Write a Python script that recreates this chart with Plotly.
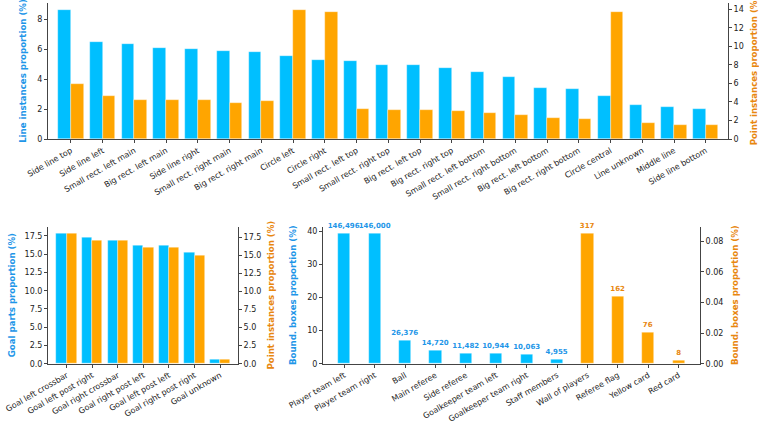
import plotly.graph_objects as go

# ---------------- data ----------------
line_categories = ["Side line top", "Side line left", "Small rect. left main", "Big rect. left main",
                   "Side line right", "Small rect. right main", "Big rect. right main", "Circle left",
                   "Circle right", "Small rect. left top", "Small rect. right top", "Big rect. left top",
                   "Big rect. right top", "Small rect. left bottom", "Small rect. right bottom",
                   "Big rect. left bottom", "Big rect. right bottom", "Circle central", "Line unknown",
                   "Middle line", "Side line bottom"]
line_instances_pct = [8.62, 6.44, 6.33, 6.04, 6.00, 5.87, 5.80, 5.56, 5.29, 5.18, 4.91,
                      4.91, 4.73, 4.47, 4.13, 3.38, 3.33, 2.87, 2.27, 2.13, 2.00]
line_points_pct = [5.96, 4.63, 4.16, 4.24, 4.24, 3.84, 4.13, 13.93, 13.71, 3.27, 3.09,
                   3.16, 3.05, 2.84, 2.62, 2.26, 2.15, 13.71, 1.69, 1.51, 1.47]

goal_categories = ["Goal left crossbar", "Goal left post right", "Goal right crossbar",
                   "Goal right post left", "Goal left post left", "Goal right post right", "Goal unknown"]
goal_parts_pct = [17.90, 17.36, 16.86, 16.26, 16.17, 15.17, 0.59]
goal_points_pct = [18.06, 17.09, 17.00, 16.03, 16.08, 15.02, 0.55]

box_categories_main = ["Player team left", "Player team right", "Ball", "Main referee", "Side referee",
                       "Goalkeeper team left", "Goalkeeper team right", "Staff members"]
box_counts_main = [146496, 146000, 26376, 14720, 11482, 10944, 10063, 4955]
box_pct_main = [39.42, 39.29, 7.10, 3.96, 3.09, 2.95, 2.71, 1.33]

box_categories_rare = ["Wall of players", "Referee flag", "Yellow card", "Red card"]
box_counts_rare = [317, 162, 76, 8]
box_pct_rare = [0.0853, 0.0436, 0.0205, 0.0022]

# ---------------- style ----------------
BLUE = "#00BFFF"
ORANGE = "#FFA500"
BLUE_TXT = "#1E96E8"
ORANGE_TXT = "#E8870F"
AX = "#444444"
FONT = "DejaVu Sans"
TICKF = dict(family=FONT, size=8, color="#222222")
EDGE = dict(color="rgba(255,255,255,0.6)", width=0.6)
W, H = 759, 422


def xd(a, b):
    return [a / W, b / W]


def yd(top, bottom):
    return [1 - bottom / H, 1 - top / H]


fig = go.Figure()

# ----- top chart -----
fig.add_trace(go.Bar(x=line_categories, y=line_instances_pct, width=0.4, offset=-0.4,
                     marker=dict(color=BLUE, line=EDGE),
                     xaxis="x", yaxis="y", showlegend=False))
fig.add_trace(go.Bar(x=line_categories, y=line_points_pct, width=0.4, offset=0.0,
                     marker=dict(color=ORANGE, line=EDGE),
                     xaxis="x", yaxis="y2", showlegend=False))

# ----- bottom-left chart -----
fig.add_trace(go.Bar(x=goal_categories, y=goal_parts_pct, width=0.4, offset=-0.4,
                     marker=dict(color=BLUE, line=EDGE),
                     xaxis="x2", yaxis="y3", showlegend=False))
fig.add_trace(go.Bar(x=goal_categories, y=goal_points_pct, width=0.4, offset=0.0,
                     marker=dict(color=ORANGE, line=EDGE),
                     xaxis="x2", yaxis="y4", showlegend=False))

# ----- bottom-right chart -----
fig.add_trace(go.Bar(x=box_categories_main, y=box_pct_main, width=0.4,
                     text=[f"<b>{c:,}</b>" for c in box_counts_main], textposition="outside",
                     constraintext="none",
                     textfont=dict(family=FONT, size=7, color=BLUE_TXT), cliponaxis=False,
                     marker=dict(color=BLUE, line=EDGE),
                     xaxis="x3", yaxis="y5", showlegend=False))
fig.add_trace(go.Bar(x=box_categories_rare, y=box_pct_rare, width=0.4,
                     text=[f"<b>{c:,}</b>" for c in box_counts_rare], textposition="outside",
                     constraintext="none",
                     textfont=dict(family=FONT, size=7, color=ORANGE_TXT), cliponaxis=False,
                     marker=dict(color=ORANGE, line=EDGE),
                     xaxis="x3", yaxis="y6", showlegend=False))

common_x = dict(showline=True, linecolor=AX, linewidth=1, ticks="outside", ticklen=3,
                tickcolor=AX, tickfont=TICKF, tickangle=-30, showgrid=False, zeroline=False)
common_y = dict(showline=True, linecolor=AX, linewidth=1, ticks="outside", ticklen=3,
                tickcolor=AX, tickfont=TICKF, showgrid=False, zeroline=False)


def ttl(text, color, standoff=6):
    return dict(text=f"<b>{text}</b>", font=dict(family=FONT, size=8.6, color=color), standoff=standoff)


BT, BB = 226.5, 363.7  # bottom row plot top / bottom (px)

fig.update_layout(
    width=W, height=H,
    margin=dict(l=0, r=0, t=0, b=0),
    paper_bgcolor="white", plot_bgcolor="white",
    barmode="overlay", bargap=0,
    xaxis=dict(common_x, domain=xd(48, 728), anchor="y", range=[-0.72, 20.7],
               type="category", automargin=False),
    yaxis=dict(common_y, domain=yd(3, 139), anchor="x", range=[0, 9.07], dtick=2,
               title=ttl("Line instances proportion (%)", BLUE_TXT, 9), automargin=False),
    yaxis2=dict(common_y, overlaying="y", side="right", anchor="x", range=[0, 14.67], dtick=2,
                title=ttl("Point instances proportion (%)", ORANGE_TXT, 11), automargin=False),

    xaxis2=dict(common_x, domain=xd(48, 238), anchor="y3", range=[-0.73, 6.7],
                type="category", automargin=False),
    yaxis3=dict(common_y, domain=yd(BT, BB), anchor="x2", range=[0, 18.8], dtick=2.5,
                tickformat=".1f",
                title=ttl("Goal parts proportion (%)", BLUE_TXT, 7), automargin=False),
    yaxis4=dict(common_y, overlaying="y3", side="right", anchor="x2", range=[0, 18.96], dtick=2.5,
                tickformat=".1f",
                title=ttl("Point instances proportion (%)", ORANGE_TXT, 7), automargin=False),

    xaxis3=dict(common_x, domain=xd(323, 700), anchor="y5", range=[-0.7, 11.7],
                type="category", automargin=False,
                categoryorder="array", categoryarray=box_categories_main + box_categories_rare),
    yaxis5=dict(common_y, domain=yd(BT, BB), anchor="x3", range=[0, 41.4], dtick=10,
                title=ttl("Bound. boxes proportion (%)", BLUE_TXT, 9), automargin=False),
    yaxis6=dict(common_y, overlaying="y5", side="right", anchor="x3", range=[0, 0.0896], dtick=0.02,
                tickformat=".2f",
                title=ttl("Bound. boxes proportion (%)", ORANGE_TXT, 9), automargin=False),
    font=dict(family=FONT),
)

fig.write_html("out.html", config={"displayModeBar": False},
               post_script="document.body.style.margin='0';document.body.style.padding='0';")
